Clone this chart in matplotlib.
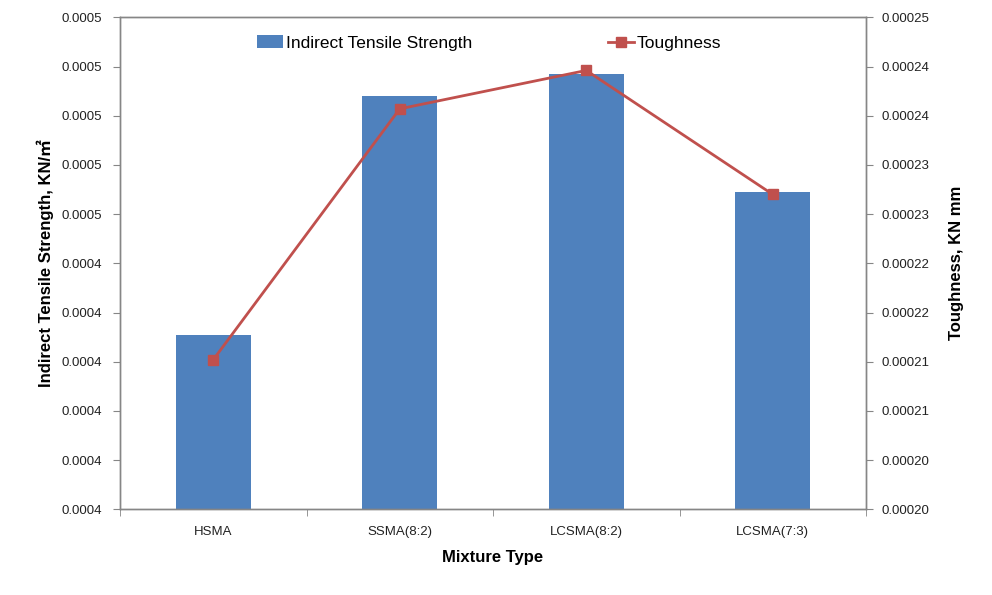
import matplotlib
matplotlib.use("Agg")
import matplotlib.pyplot as plt
from matplotlib.ticker import FixedLocator, FixedFormatter
import numpy as np

categories = ["HSMA", "SSMA(8:2)", "LCSMA(8:2)", "LCSMA(7:3)"]
its_values = [0.0004354, 0.0004840, 0.0004885, 0.0004645]
toughness_values = [0.0002152, 0.0002407, 0.0002446, 0.0002320]

left_ticks = [0.00040, 0.00041, 0.00042, 0.00043, 0.00044, 0.00045,
              0.00046, 0.00047, 0.00048, 0.00049, 0.00050]
left_labels = ["0.0004", "0.0004", "0.0004", "0.0004", "0.0004", "0.0004",
               "0.0005", "0.0005", "0.0005", "0.0005", "0.0005"]
right_ticks = [0.000200, 0.000205, 0.000210, 0.000215, 0.000220, 0.000225,
               0.000230, 0.000235, 0.000240, 0.000245, 0.000250]
right_labels = ["0.00020", "0.00020", "0.00021", "0.00021", "0.00022", "0.00022",
                "0.00023", "0.00023", "0.00024", "0.00024", "0.00025"]

plt.rcParams['font.family'] = ['Liberation Sans', 'Noto Sans CJK SC', 'DejaVu Sans']

fig = plt.figure(figsize=(9.92, 5.95), dpi=100)
ax = fig.add_axes([120/992, 1-509.3/595, (866-120)/992, (509.3-17.3)/595])
ax2 = ax.twinx()

x = np.arange(len(categories))
bars = ax.bar(x, its_values, width=0.40, color='#4F81BD', label='Indirect Tensile Strength', zorder=2)
line, = ax2.plot(x, toughness_values, color='#C0504D', lw=2.0, marker='s', markersize=6.5,
                 label='Toughness', zorder=3)

ax.set_xlim(-0.5, len(categories) - 0.5)
ax.set_ylim(left_ticks[0], left_ticks[-1])
ax2.set_ylim(right_ticks[0], right_ticks[-1])

ax.yaxis.set_major_locator(FixedLocator(left_ticks))
ax.yaxis.set_major_formatter(FixedFormatter(left_labels))
ax2.yaxis.set_major_locator(FixedLocator(right_ticks))
ax2.yaxis.set_major_formatter(FixedFormatter(right_labels))

ax.set_xticks(x)
ax.set_xticklabels(categories)
ax.set_xticks(np.arange(len(categories) + 1) - 0.5, minor=True)
ax.tick_params(axis='x', which='major', length=0, pad=12, labelsize=9.5, colors='#222222')
ax.tick_params(axis='x', which='minor', length=5, color='#868686', direction='out')
ax.tick_params(axis='y', length=5, color='#868686', labelsize=9.5, labelcolor='#222222', pad=8)
ax2.tick_params(axis='y', length=5, color='#868686', labelsize=9.5, labelcolor='#222222', pad=6)

for a in (ax, ax2):
    for s in a.spines.values():
        s.set_color('#868686')
        s.set_linewidth(1.0)

ax.set_ylabel('Indirect Tensile Strength, KN/㎡', fontsize=12, fontweight='bold', labelpad=5)
ax2.set_ylabel('Toughness, KN mm', fontsize=12, fontweight='bold', labelpad=14)
ax.set_xlabel('Mixture Type', fontsize=12, fontweight='bold', labelpad=9)

fig.legend(handles=[bars, line], labels=['Indirect Tensile Strength', 'Toughness'],
           loc='center', bbox_to_anchor=(489/992, 1-43/595), ncol=2, frameon=False,
           fontsize=12.5, columnspacing=7.8, handlelength=1.5, handletextpad=0.15)

fig.savefig('out.png', dpi=100)
